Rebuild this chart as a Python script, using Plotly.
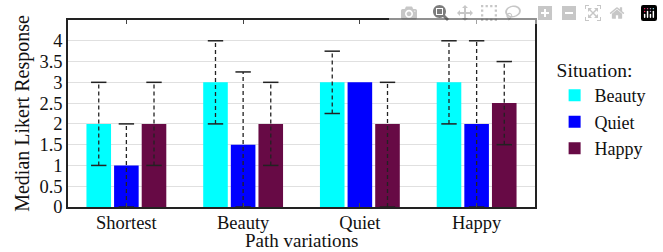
import plotly.graph_objects as go

categories = ["Shortest", "Beauty", "Quiet", "Happy"]
series_names = ["Beauty", "Quiet", "Happy"]
colors = ["#00FFFF", "#0000FF", "#670A45"]

medians = {
    "Beauty": [2, 3, 3, 3],
    "Quiet": [1, 1.5, 3, 2],
    "Happy": [2, 2, 2, 2.5],
}
err_low = {
    "Beauty": [1, 2, 2.25, 2],
    "Quiet": [0, 0, 3, 0],
    "Happy": [1, 1, 0, 1.5],
}
err_high = {
    "Beauty": [3, 4, 3.75, 4],
    "Quiet": [2, 3.25, 3, 4],
    "Happy": [3, 3, 3, 3.5],
}
y_ticks = [0, 0.5, 1, 1.5, 2, 2.5, 3, 3.5, 4]

FONT = "Liberation Serif, Times New Roman, serif"
INK = "#111111"


def f(size):
    return dict(family=FONT, size=size, color=INK)


fig = go.Figure()
for name, col in zip(series_names, colors):
    fig.add_trace(go.Bar(
        x=categories, y=medians[name], name=name,
        marker=dict(color=col, line=dict(width=0)),
        offsetgroup=name,
    ))

for name in series_names:
    xs, ys, cx, cy = [], [], [], []
    for c, lo, hi in zip(categories, err_low[name], err_high[name]):
        if hi == lo:
            continue
        xs += [c, c, None]
        ys += [lo, hi, None]
        cx += [c, c]
        cy += [lo, hi]
    fig.add_trace(go.Scatter(
        x=xs, y=ys, mode="lines", offsetgroup=name, showlegend=False,
        line=dict(color="#222222", width=1.3, dash="4px,3px"),
        hoverinfo="skip", connectgaps=False,
    ))
    fig.add_trace(go.Scatter(
        x=cx, y=cy, mode="markers", offsetgroup=name, showlegend=False,
        marker=dict(symbol="line-ew", size=11, line=dict(color="#222222", width=1.5)),
        hoverinfo="skip", cliponaxis=False,
    ))

fig.update_layout(
    width=663, height=252,
    margin=dict(l=68, r=115, t=20, b=45),
    paper_bgcolor="white", plot_bgcolor="white",
    barmode="group", bargap=0.29, bargroupgap=0.11,
    scattermode="group", scattergap=0.29,
    font=f(19),
    legend=dict(
        title=dict(text="Situation:", font=f(19.5)),
        x=1.042, xanchor="left", y=0.83, yanchor="top",
        font=f(18), tracegroupgap=0, itemsizing="constant",
    ),
    xaxis=dict(
        showline=True, linecolor="#222222", linewidth=1.5, mirror="ticks",
        ticks="inside", ticklen=4, tickcolor="#444444", automargin=False,
        tickfont=f(18.5), showgrid=False, ticklabelstandoff=-2,
    ),
    yaxis=dict(
        title=dict(text="Median Likert Response", font=f(20), standoff=4),
        range=[0, 4.5], tickvals=y_ticks, automargin=False,
        showline=True, linecolor="#222222", linewidth=1.5, mirror=True,
        ticks="", tickfont=f(18.5),
        showgrid=True, gridcolor="#E0E0E0", gridwidth=1, zeroline=False,
    ),
    annotations=[dict(
        text="Path variations", xref="paper", yref="paper",
        x=0.5, y=-0.18, xanchor="center", yanchor="middle",
        showarrow=False, font=f(19),
    )],
)

fig.write_html(
    "out.html",
    post_script="document.body.style.margin='0';document.body.style.padding='0';",
)
